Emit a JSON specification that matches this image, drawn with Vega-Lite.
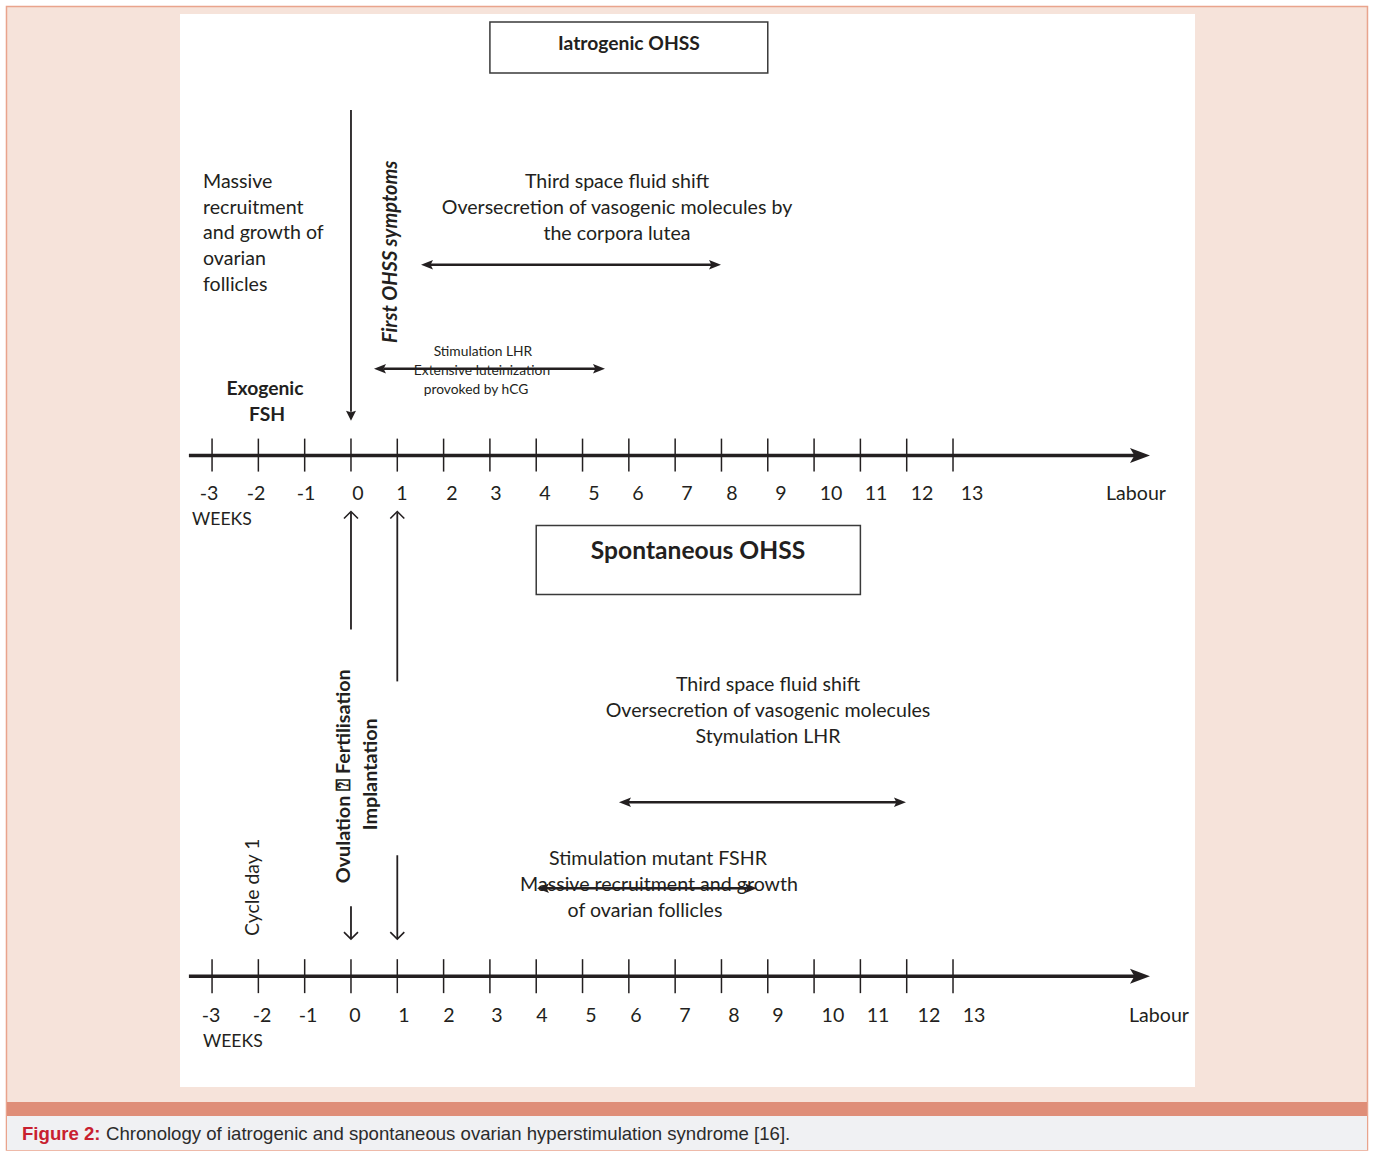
{
  "$schema": "https://vega.github.io/schema/vega-lite/v6.json",
  "width": 1373,
  "height": 1151,
  "autosize": {"type": "fit", "contains": "padding"},
  "padding": 0,
  "background": "#ffffff",
  "config": {"view": {"stroke": null}},
  "datasets": {
    "panels": [
      {"part": "frame", "x": -7.439, "x2": 21.95, "y": 6.5, "y2": 1151},
      {"part": "sheet", "x": -3.6925, "x2": 18.225, "y": 14, "y2": 1088},
      {"part": "band", "x": -7.428, "x2": 21.939, "y": 1103, "y2": 1117},
      {"part": "caption", "x": -7.428, "x2": 21.939, "y": 1117, "y2": 1151}
    ],
    "boxes": [
      {"box": "Iatrogenic", "x": 3.0, "x2": 9.0, "y": 22, "y2": 73},
      {"box": "Spontaneous", "x": 4.0, "x2": 11.0, "y": 526, "y2": 595}
    ],
    "lines": [
      {"kind": "axis", "x": -3.5, "x2": 17.0, "y": 456, "y2": 456},
      {"kind": "axis", "x": -3.5, "x2": 17.0, "y": 977, "y2": 977},
      {"kind": "tick", "x": -3, "x2": -3, "y": 439, "y2": 472},
      {"kind": "tick", "x": -2, "x2": -2, "y": 439, "y2": 472},
      {"kind": "tick", "x": -1, "x2": -1, "y": 439, "y2": 472},
      {"kind": "tick", "x": 0, "x2": 0, "y": 439, "y2": 472},
      {"kind": "tick", "x": 1, "x2": 1, "y": 439, "y2": 472},
      {"kind": "tick", "x": 2, "x2": 2, "y": 439, "y2": 472},
      {"kind": "tick", "x": 3, "x2": 3, "y": 439, "y2": 472},
      {"kind": "tick", "x": 4, "x2": 4, "y": 439, "y2": 472},
      {"kind": "tick", "x": 5, "x2": 5, "y": 439, "y2": 472},
      {"kind": "tick", "x": 6, "x2": 6, "y": 439, "y2": 472},
      {"kind": "tick", "x": 7, "x2": 7, "y": 439, "y2": 472},
      {"kind": "tick", "x": 8, "x2": 8, "y": 439, "y2": 472},
      {"kind": "tick", "x": 9, "x2": 9, "y": 439, "y2": 472},
      {"kind": "tick", "x": 10, "x2": 10, "y": 439, "y2": 472},
      {"kind": "tick", "x": 11, "x2": 11, "y": 439, "y2": 472},
      {"kind": "tick", "x": 12, "x2": 12, "y": 439, "y2": 472},
      {"kind": "tick", "x": 13, "x2": 13, "y": 439, "y2": 472},
      {"kind": "tick", "x": -3, "x2": -3, "y": 960, "y2": 994},
      {"kind": "tick", "x": -2, "x2": -2, "y": 960, "y2": 994},
      {"kind": "tick", "x": -1, "x2": -1, "y": 960, "y2": 994},
      {"kind": "tick", "x": 0, "x2": 0, "y": 960, "y2": 994},
      {"kind": "tick", "x": 1, "x2": 1, "y": 960, "y2": 994},
      {"kind": "tick", "x": 2, "x2": 2, "y": 960, "y2": 994},
      {"kind": "tick", "x": 3, "x2": 3, "y": 960, "y2": 994},
      {"kind": "tick", "x": 4, "x2": 4, "y": 960, "y2": 994},
      {"kind": "tick", "x": 5, "x2": 5, "y": 960, "y2": 994},
      {"kind": "tick", "x": 6, "x2": 6, "y": 960, "y2": 994},
      {"kind": "tick", "x": 7, "x2": 7, "y": 960, "y2": 994},
      {"kind": "tick", "x": 8, "x2": 8, "y": 960, "y2": 994},
      {"kind": "tick", "x": 9, "x2": 9, "y": 960, "y2": 994},
      {"kind": "tick", "x": 10, "x2": 10, "y": 960, "y2": 994},
      {"kind": "tick", "x": 11, "x2": 11, "y": 960, "y2": 994},
      {"kind": "tick", "x": 12, "x2": 12, "y": 960, "y2": 994},
      {"kind": "tick", "x": 13, "x2": 13, "y": 960, "y2": 994},
      {"kind": "shaft", "x": 0, "x2": 0, "y": 110, "y2": 412},
      {"kind": "shaft", "x": 0, "x2": 0, "y": 513, "y2": 630},
      {"kind": "shaft", "x": 1, "x2": 1, "y": 513, "y2": 682},
      {"kind": "shaft", "x": 0, "x2": 0, "y": 907, "y2": 939},
      {"kind": "shaft", "x": 1, "x2": 1, "y": 856, "y2": 939},
      {"kind": "span", "x": 1.7, "x2": 7.8, "y": 265, "y2": 265},
      {"kind": "span", "x": 0.7, "x2": 5.3, "y": 369, "y2": 369},
      {"kind": "span", "x": 5.98, "x2": 11.79, "y": 803, "y2": 803},
      {"kind": "span", "x": 4.21, "x2": 8.57, "y": 889, "y2": 889}
    ],
    "heads": [
      {"kind": "axis", "dir": "right", "x": 17.253, "y": 456},
      {"kind": "axis", "dir": "right", "x": 17.253, "y": 977},
      {"kind": "span", "dir": "left", "x": 1.512, "y": 265},
      {"kind": "span", "dir": "right", "x": 7.99, "y": 265},
      {"kind": "span", "dir": "left", "x": 0.497, "y": 369},
      {"kind": "span", "dir": "right", "x": 5.485, "y": 369},
      {"kind": "span", "dir": "left", "x": 5.787, "y": 803},
      {"kind": "span", "dir": "right", "x": 11.984, "y": 803},
      {"kind": "span", "dir": "left", "x": 4.016, "y": 889},
      {"kind": "span", "dir": "right", "x": 8.767, "y": 889},
      {"kind": "marker", "dir": "down", "x": 0, "y": 421},
      {"kind": "chevron", "dir": "up", "x": 0, "y": 512},
      {"kind": "chevron", "dir": "up", "x": 1, "y": 512},
      {"kind": "chevron", "dir": "down", "x": 0, "y": 940},
      {"kind": "chevron", "dir": "down", "x": 1, "y": 940}
    ],
    "texts": [
      {"role": "head", "text": "Iatrogenic OHSS", "x": 6.003, "y": 43},
      {"role": "left", "text": "Massive", "x": -3.196, "y": 181},
      {"role": "left", "text": "recruitment", "x": -3.196, "y": 207},
      {"role": "left", "text": "and growth of", "x": -3.196, "y": 232},
      {"role": "left", "text": "ovarian", "x": -3.196, "y": 258},
      {"role": "left", "text": "follicles", "x": -3.196, "y": 284},
      {"role": "body", "text": "Third space fluid shift", "x": 5.744, "y": 181},
      {"role": "body", "text": "Oversecretion of vasogenic molecules by", "x": 5.744, "y": 207},
      {"role": "body", "text": "the corpora lutea", "x": 5.744, "y": 233},
      {"role": "vbi", "text": "First OHSS symptoms", "x": 0.864, "y": 252},
      {"role": "note", "text": "Stimulation LHR", "x": 2.85, "y": 351},
      {"role": "note", "text": "Extensive luteinization", "x": 2.829, "y": 370},
      {"role": "note", "text": "provoked by hCG", "x": 2.699, "y": 389},
      {"role": "head", "text": "Exogenic", "x": -1.857, "y": 388},
      {"role": "head", "text": "FSH", "x": -1.814, "y": 414},
      {"role": "tick", "text": "-3", "x": -3.066, "y": 493},
      {"role": "tick", "text": "-2", "x": -2.051, "y": 493},
      {"role": "tick", "text": "-1", "x": -0.972, "y": 493},
      {"role": "tick", "text": "0", "x": 0.151, "y": 493},
      {"role": "tick", "text": "1", "x": 1.101, "y": 493},
      {"role": "tick", "text": "2", "x": 2.181, "y": 493},
      {"role": "tick", "text": "3", "x": 3.131, "y": 493},
      {"role": "tick", "text": "4", "x": 4.189, "y": 493},
      {"role": "tick", "text": "5", "x": 5.247, "y": 493},
      {"role": "tick", "text": "6", "x": 6.197, "y": 493},
      {"role": "tick", "text": "7", "x": 7.255, "y": 493},
      {"role": "tick", "text": "8", "x": 8.227, "y": 493},
      {"role": "tick", "text": "9", "x": 9.285, "y": 493},
      {"role": "tick", "text": "10", "x": 10.365, "y": 493},
      {"role": "tick", "text": "11", "x": 11.337, "y": 493},
      {"role": "tick", "text": "12", "x": 12.33, "y": 493},
      {"role": "tick", "text": "13", "x": 13.41, "y": 493},
      {"role": "tick", "text": "Labour", "x": 16.951, "y": 493},
      {"role": "unit", "text": "WEEKS", "x": -3.433, "y": 519},
      {"role": "title", "text": "Spontaneous OHSS", "x": 7.493, "y": 551},
      {"role": "body", "text": "Third space fluid shift", "x": 9.005, "y": 684},
      {"role": "body", "text": "Oversecretion of vasogenic molecules", "x": 9.005, "y": 710},
      {"role": "body", "text": "Stymulation LHR", "x": 9.005, "y": 736},
      {"role": "v", "text": "Cycle day 1", "x": -2.116, "y": 888},
      {"role": "vb", "text": "Ovulation ⍰ Fertilisation", "x": -0.151, "y": 777},
      {"role": "vb", "text": "Implantation", "x": 0.432, "y": 775},
      {"role": "body", "text": "Stimulation mutant FSHR", "x": 6.629, "y": 858},
      {"role": "body", "text": "Massive recruitment and growth", "x": 6.651, "y": 884},
      {"role": "body", "text": "of ovarian follicles", "x": 6.348, "y": 910},
      {"role": "tick", "text": "-3", "x": -3.023, "y": 1015},
      {"role": "tick", "text": "-2", "x": -1.922, "y": 1015},
      {"role": "tick", "text": "-1", "x": -0.929, "y": 1015},
      {"role": "tick", "text": "0", "x": 0.086, "y": 1015},
      {"role": "tick", "text": "1", "x": 1.144, "y": 1015},
      {"role": "tick", "text": "2", "x": 2.116, "y": 1015},
      {"role": "tick", "text": "3", "x": 3.153, "y": 1015},
      {"role": "tick", "text": "4", "x": 4.124, "y": 1015},
      {"role": "tick", "text": "5", "x": 5.182, "y": 1015},
      {"role": "tick", "text": "6", "x": 6.154, "y": 1015},
      {"role": "tick", "text": "7", "x": 7.212, "y": 1015},
      {"role": "tick", "text": "8", "x": 8.271, "y": 1015},
      {"role": "tick", "text": "9", "x": 9.221, "y": 1015},
      {"role": "tick", "text": "10", "x": 10.408, "y": 1015},
      {"role": "tick", "text": "11", "x": 11.38, "y": 1015},
      {"role": "tick", "text": "12", "x": 12.481, "y": 1015},
      {"role": "tick", "text": "13", "x": 13.453, "y": 1015},
      {"role": "tick", "text": "Labour", "x": 17.448, "y": 1015},
      {"role": "unit", "text": "WEEKS", "x": -3.196, "y": 1041},
      {"role": "capRed", "text": "Figure 2:", "x": -7.104, "y": 1133},
      {"role": "cap", "text": "Chronology of iatrogenic and spontaneous ovarian hyperstimulation syndrome [16].", "x": -5.29, "y": 1133}
    ]
  },
  "encoding": {
    "x": {"field": "x", "type": "quantitative", "scale": {"domain": [-7.579, 22.069], "nice": false, "zero": false}, "axis": null},
    "y": {"field": "y", "type": "quantitative", "scale": {"domain": [0, 1151], "reverse": true, "nice": false, "zero": false}, "axis": null}
  },
  "layer": [
    {"data": {"name": "panels"}, "transform": [{"filter": "datum.part === 'frame'"}],
     "mark": {"type": "rect", "fill": "#f6e3da", "stroke": "#e9a48d", "strokeWidth": 1.5},
     "encoding": {"x2": {"field": "x2"}, "y2": {"field": "y2"}}},
    {"data": {"name": "panels"}, "transform": [{"filter": "datum.part === 'sheet'"}],
     "mark": {"type": "rect", "fill": "#ffffff"},
     "encoding": {"x2": {"field": "x2"}, "y2": {"field": "y2"}}},
    {"data": {"name": "panels"}, "transform": [{"filter": "datum.part === 'band'"}],
     "mark": {"type": "rect", "fill": "#df8e78"},
     "encoding": {"x2": {"field": "x2"}, "y2": {"field": "y2"}}},
    {"data": {"name": "panels"}, "transform": [{"filter": "datum.part === 'caption'"}],
     "mark": {"type": "rect", "fill": "#f0f1f3"},
     "encoding": {"x2": {"field": "x2"}, "y2": {"field": "y2"}}},
    {"data": {"name": "boxes"},
     "mark": {"type": "rect", "fill": "#ffffff", "stroke": "#3a3a3a", "strokeWidth": 1.5},
     "encoding": {"x2": {"field": "x2"}, "y2": {"field": "y2"}}},
    {"data": {"name": "lines"}, "transform": [{"filter": "datum.kind === 'axis'"}],
     "mark": {"type": "rule", "color": "#231f20", "strokeWidth": 3.5},
     "encoding": {"x2": {"field": "x2"}, "y2": {"field": "y2"}}},
    {"data": {"name": "lines"}, "transform": [{"filter": "datum.kind === 'tick'"}],
     "mark": {"type": "rule", "color": "#231f20", "strokeWidth": 1.5},
     "encoding": {"x2": {"field": "x2"}, "y2": {"field": "y2"}}},
    {"data": {"name": "lines"}, "transform": [{"filter": "datum.kind === 'shaft'"}],
     "mark": {"type": "rule", "color": "#231f20", "strokeWidth": 1.8},
     "encoding": {"x2": {"field": "x2"}, "y2": {"field": "y2"}}},
    {"data": {"name": "lines"}, "transform": [{"filter": "datum.kind === 'span'"}],
     "mark": {"type": "rule", "color": "#231f20", "strokeWidth": 2.5},
     "encoding": {"x2": {"field": "x2"}, "y2": {"field": "y2"}}},
    {"data": {"name": "heads"}, "transform": [{"filter": "datum.kind === 'axis'"}],
     "mark": {"type": "point", "shape": "M0,0L-2,-0.75L-1.55,0L-2,0.75Z", "size": 400, "filled": true, "fill": "#231f20", "opacity": 1, "strokeWidth": 0, "angle": 0}},
    {"data": {"name": "heads"}, "transform": [{"filter": "datum.kind === 'span' && datum.dir === 'right'"}],
     "mark": {"type": "point", "shape": "M0,0L-2,-0.8L-1.6,0L-2,0.8Z", "size": 144, "filled": true, "fill": "#231f20", "opacity": 1, "strokeWidth": 0, "angle": 0}},
    {"data": {"name": "heads"}, "transform": [{"filter": "datum.kind === 'span' && datum.dir === 'left'"}],
     "mark": {"type": "point", "shape": "M0,0L-2,-0.8L-1.6,0L-2,0.8Z", "size": 144, "filled": true, "fill": "#231f20", "opacity": 1, "strokeWidth": 0, "angle": 180}},
    {"data": {"name": "heads"}, "transform": [{"filter": "datum.kind === 'marker'"}],
     "mark": {"type": "point", "shape": "M0,0L-2,-1L-1.7,0L-2,1Z", "size": 100, "filled": true, "fill": "#231f20", "opacity": 1, "strokeWidth": 0, "angle": 90}},
    {"data": {"name": "heads"}, "transform": [{"filter": "datum.kind === 'chevron' && datum.dir === 'up'"}],
     "mark": {"type": "point", "shape": "M-1,-1L0,0L-1,1", "size": 196, "filled": false, "stroke": "#231f20", "strokeWidth": 1.6, "opacity": 1, "angle": 270}},
    {"data": {"name": "heads"}, "transform": [{"filter": "datum.kind === 'chevron' && datum.dir === 'down'"}],
     "mark": {"type": "point", "shape": "M-1,-1L0,0L-1,1", "size": 196, "filled": false, "stroke": "#231f20", "strokeWidth": 1.6, "opacity": 1, "angle": 90}},
    {"data": {"name": "texts"}, "transform": [{"filter": "datum.role === 'body'"}],
     "mark": {"type": "text", "font": "Lato", "fontSize": 19.6, "align": "center", "baseline": "middle", "dy": 1.5, "fill": "#231f20"},
     "encoding": {"text": {"field": "text"}}},
    {"data": {"name": "texts"}, "transform": [{"filter": "datum.role === 'left'"}],
     "mark": {"type": "text", "font": "Lato", "fontSize": 19.6, "align": "left", "baseline": "middle", "dy": 1.5, "fill": "#231f20"},
     "encoding": {"text": {"field": "text"}}},
    {"data": {"name": "texts"}, "transform": [{"filter": "datum.role === 'unit'"}],
     "mark": {"type": "text", "font": "Lato", "fontSize": 17.6, "align": "left", "baseline": "middle", "dy": 1.5, "fill": "#231f20"},
     "encoding": {"text": {"field": "text"}}},
    {"data": {"name": "texts"}, "transform": [{"filter": "datum.role === 'tick'"}],
     "mark": {"type": "text", "font": "Lato", "fontSize": 19.6, "align": "center", "baseline": "middle", "dy": 1.5, "fill": "#231f20"},
     "encoding": {"text": {"field": "text"}}},
    {"data": {"name": "texts"}, "transform": [{"filter": "datum.role === 'note'"}],
     "mark": {"type": "text", "font": "Lato", "fontSize": 13.8, "align": "center", "baseline": "middle", "dy": 1.5, "fill": "#231f20"},
     "encoding": {"text": {"field": "text"}}},
    {"data": {"name": "texts"}, "transform": [{"filter": "datum.role === 'head'"}],
     "mark": {"type": "text", "font": "Lato", "fontSize": 19.3, "fontWeight": "bold", "align": "center", "baseline": "middle", "dy": 1.5, "fill": "#231f20"},
     "encoding": {"text": {"field": "text"}}},
    {"data": {"name": "texts"}, "transform": [{"filter": "datum.role === 'title'"}],
     "mark": {"type": "text", "font": "Lato", "fontSize": 24.6, "fontWeight": "bold", "align": "center", "baseline": "middle", "dy": 1.5, "fill": "#231f20"},
     "encoding": {"text": {"field": "text"}}},
    {"data": {"name": "texts"}, "transform": [{"filter": "datum.role === 'vbi'"}],
     "mark": {"type": "text", "font": "Lato", "fontSize": 20, "fontWeight": "bold", "fontStyle": "italic", "angle": 270, "align": "center", "baseline": "middle", "fill": "#231f20"},
     "encoding": {"text": {"field": "text"}}},
    {"data": {"name": "texts"}, "transform": [{"filter": "datum.role === 'vb'"}],
     "mark": {"type": "text", "font": "Lato", "fontSize": 19.8, "fontWeight": "bold", "angle": 270, "align": "center", "baseline": "middle", "fill": "#231f20"},
     "encoding": {"text": {"field": "text"}}},
    {"data": {"name": "texts"}, "transform": [{"filter": "datum.role === 'v'"}],
     "mark": {"type": "text", "font": "Lato", "fontSize": 19.4, "angle": 270, "align": "center", "baseline": "middle", "fill": "#231f20"},
     "encoding": {"text": {"field": "text"}}},
    {"data": {"name": "texts"}, "transform": [{"filter": "datum.role === 'capRed'"}],
     "mark": {"type": "text", "font": "Liberation Sans", "fontSize": 18.6, "fontWeight": "bold", "align": "left", "baseline": "middle", "dy": 1.5, "fill": "#c8202f"},
     "encoding": {"text": {"field": "text"}}},
    {"data": {"name": "texts"}, "transform": [{"filter": "datum.role === 'cap'"}],
     "mark": {"type": "text", "font": "Liberation Sans", "fontSize": 18.6, "align": "left", "baseline": "middle", "dy": 1.5, "fill": "#2b2b2b"},
     "encoding": {"text": {"field": "text"}}}
  ]
}
